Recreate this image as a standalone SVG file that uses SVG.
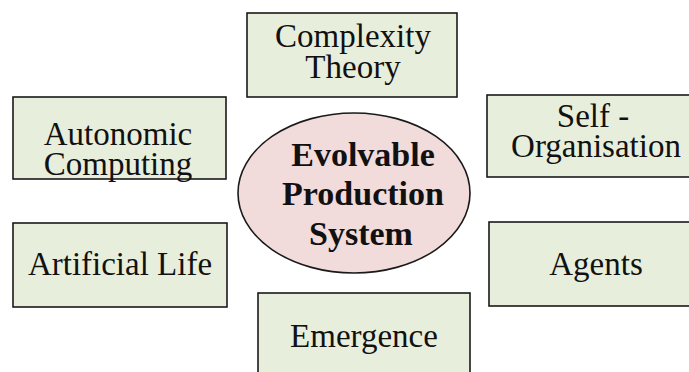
<svg xmlns="http://www.w3.org/2000/svg" width="689" height="372" viewBox="0 0 689 372">
  <defs>
    <style>
      .box { fill: #E8EEDC; stroke: #1a1a1a; stroke-width: 1.6; }
      .hub { fill: #F2DCDB; stroke: #1a1a1a; stroke-width: 1.6; }
      text { font-family: 'Liberation Serif', 'Times New Roman', Times, serif; fill: #111; text-anchor: middle; }
      .lbl { font-size: 33px; }
      .hubtxt { font-size: 34px; font-weight: bold; }
    </style>
  </defs>
  <rect width="689" height="372" fill="#ffffff"/>

  <g id="connectors"></g>

  <g id="complexity-theory">
    <rect class="box" x="247" y="13" width="210" height="84"/>
    <text class="lbl" x="353" y="47">Complexity</text>
    <text class="lbl" x="353" y="78">Theory</text>
  </g>

  <g id="autonomic-computing">
    <rect class="box" x="13" y="97" width="213" height="82"/>
    <text class="lbl" x="118" y="145">Autonomic</text>
    <text class="lbl" x="118" y="175">Computing</text>
  </g>

  <g id="self-organisation">
    <rect class="box" x="487" y="95" width="203" height="82"/>
    <text class="lbl" x="593" y="127">Self -</text>
    <text class="lbl" x="596" y="157">Organisation</text>
  </g>

  <g id="artificial-life">
    <rect class="box" x="13" y="223" width="214" height="84"/>
    <text class="lbl" x="120" y="275">Artificial Life</text>
  </g>

  <g id="agents">
    <rect class="box" x="489" y="222" width="203" height="84"/>
    <text class="lbl" x="596" y="275">Agents</text>
  </g>

  <g id="emergence">
    <rect class="box" x="258" y="293" width="212" height="85"/>
    <text class="lbl" x="364" y="347">Emergence</text>
  </g>

  <g id="evolvable-production-system">
    <ellipse class="hub" cx="354" cy="193" rx="116" ry="80"/>
    <text class="hubtxt" x="363" y="166">Evolvable</text>
    <text class="hubtxt" x="363" y="205">Production</text>
    <text class="hubtxt" x="361" y="245">System</text>
  </g>
</svg>
